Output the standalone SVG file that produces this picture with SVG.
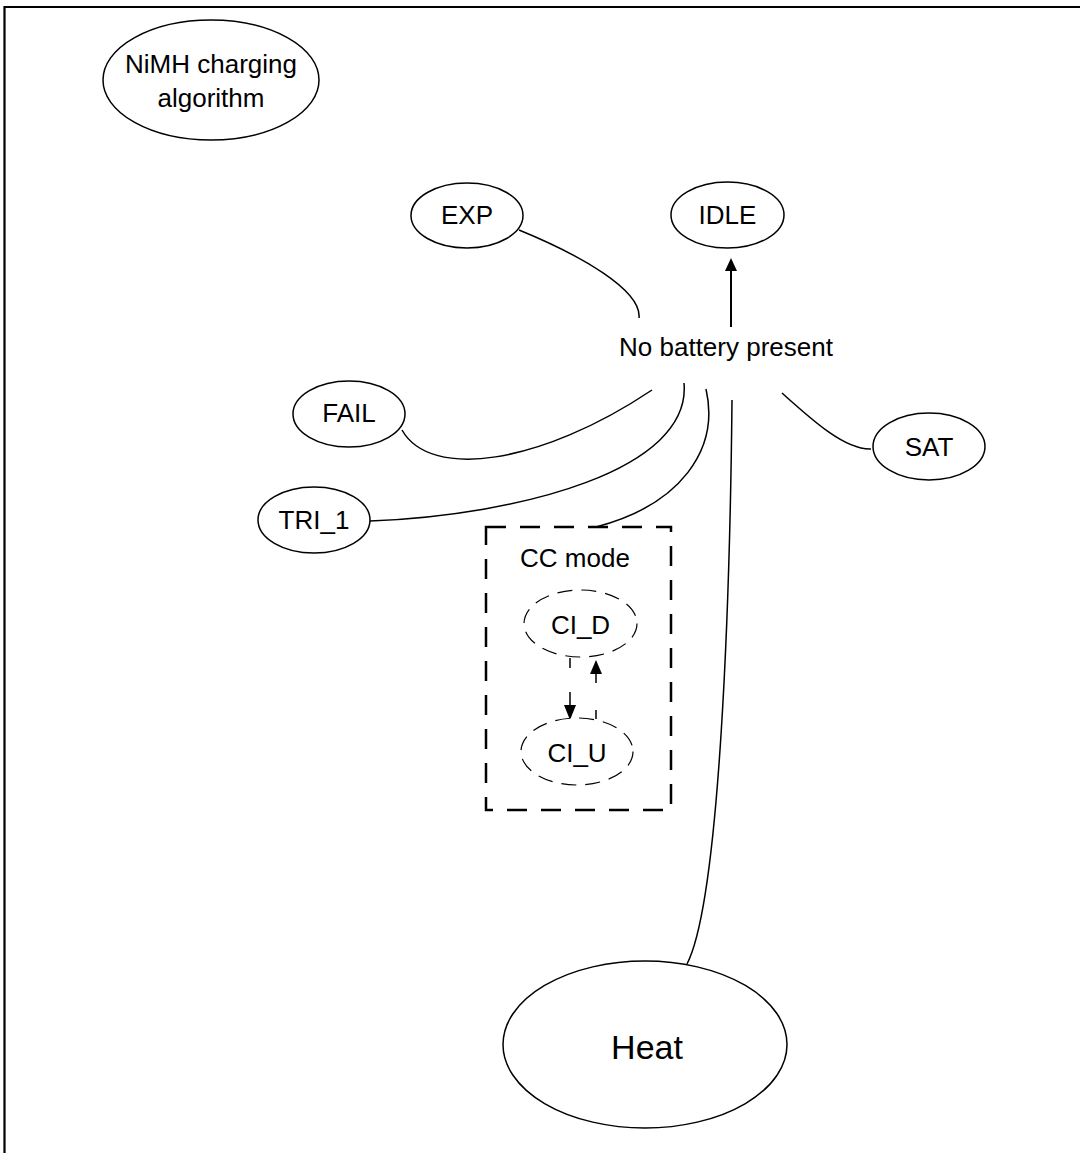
<svg xmlns="http://www.w3.org/2000/svg" width="1080" height="1153" viewBox="0 0 1080 1153">
<style>
text{font-family:"Liberation Sans",Arial,sans-serif;fill:#000;text-anchor:middle}
.t{font-size:26px}
.node{fill:#fff;stroke:#000;stroke-width:1.5}
.dnode{fill:#fff;stroke:#000;stroke-width:1.2;stroke-dasharray:15 9}
.conn{fill:none;stroke:#000;stroke-width:1.5}
.head{fill:#000;stroke:none}
</style>
<rect width="1080" height="1153" fill="#fff"/>
<path d="M4.5,1153 V7 H1080" fill="none" stroke="#000" stroke-width="2.2"/>
<g id="connectors">
<path class="conn" d="M519,230 C580,255 642,290 639,318"/>
<path class="conn" d="M731,327 V270" stroke-width="2" style="stroke-width:2"/>
<polygon class="head" points="731,258 737,271 725,271"/>
<path class="conn" d="M402,430 C430,480 540,465 652,390"/>
<path class="conn" d="M370,521 C520,515 692,470 684,383"/>
<path class="conn" d="M596,527 C680,505 720,450 706,389"/>
<path class="conn" d="M782,393 C812,420 845,450 871,449"/>
<path class="conn" d="M732,400 C730,600 720,900 687,964"/>
<path class="conn" d="M570,658 V706" style="stroke-dasharray:10 24 14"/>
<polygon class="head" points="570,720 564,705 576,705"/>
<path class="conn" d="M596,719 V673" style="stroke-dasharray:9 27 12"/>
<polygon class="head" points="596,660 602,674 590,674"/>
</g>
<g id="nimh">
<ellipse class="node" cx="211" cy="80" rx="108" ry="60"/>
<text class="t" x="211" y="73">NiMH charging</text>
<text class="t" x="211" y="107">algorithm</text>
</g>
<g id="exp">
<ellipse class="node" cx="467" cy="215.5" rx="56" ry="32.5"/>
<text class="t" x="467" y="224">EXP</text>
</g>
<g id="idle">
<ellipse class="node" cx="727.5" cy="215" rx="56.5" ry="33"/>
<text class="t" x="727.5" y="224">IDLE</text>
</g>
<g id="nobattery">
<text class="t" x="726" y="356">No battery present</text>
</g>
<g id="fail">
<ellipse class="node" cx="349" cy="414" rx="56" ry="33"/>
<text class="t" x="349" y="422">FAIL</text>
</g>
<g id="tri1">
<ellipse class="node" cx="314" cy="520" rx="56" ry="33"/>
<text class="t" x="314" y="529">TRI_1</text>
</g>
<g id="sat">
<ellipse class="node" cx="929" cy="446.5" rx="56" ry="33.5"/>
<text class="t" x="929" y="456">SAT</text>
</g>
<g id="ccmode">
<rect x="486" y="527" width="185" height="283" fill="none" stroke="#000" stroke-width="2.5" stroke-dasharray="20 14"/>
<text class="t" x="575" y="567">CC mode</text>
</g>
<g id="ci_d">
<ellipse class="dnode" cx="580.5" cy="623.5" rx="56.5" ry="33.5"/>
<text class="t" x="580.5" y="634">CI_D</text>
</g>
<g id="ci_u">
<ellipse class="dnode" cx="577" cy="751.5" rx="56" ry="33.5"/>
<text class="t" x="577" y="762">CI_U</text>
</g>
<g id="heat">
<ellipse class="node" cx="645" cy="1044.5" rx="142" ry="83.5"/>
<text x="647" y="1059" style="font-size:34px">Heat</text>
</g>
</svg>
